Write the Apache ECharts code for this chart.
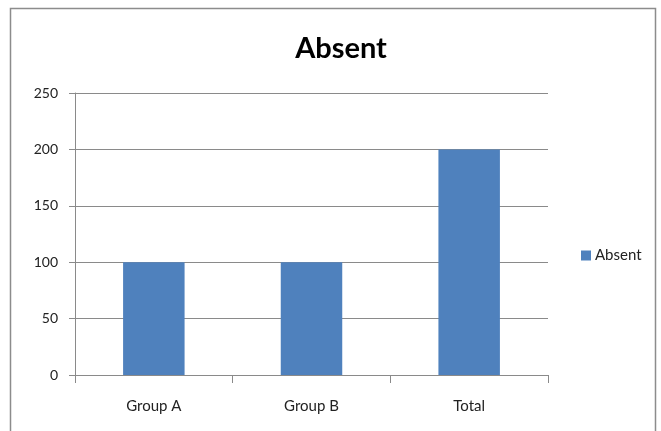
<!DOCTYPE html>
<html>
<head>
<meta charset="utf-8">
<script src="https://cdn.jsdelivr.net/npm/echarts@6/dist/echarts.min.js"></script>
<style>
  html, body { margin: 0; padding: 0; background: #fff; }
  #chart { width: 661px; height: 431px; }
</style>
</head>
<body>
<div id="chart"></div>
<script>
// Absence counts per group
const categories = ['Group A', 'Group B', 'Total'];
const absentValues = [100, 100, 200];
const seriesName = 'Absent';
const yTicks = { min: 0, max: 250, interval: 50 };

const chart = echarts.init(document.getElementById('chart'), null, { renderer: 'canvas' });
const fontFamily = 'Lato, "Open Sans", sans-serif';
const gridColor = '#8a8a8a';

chart.setOption({
  backgroundColor: '#ffffff',
  animation: false,
  textStyle: { fontFamily: fontFamily },
  graphic: [{
    type: 'rect',
    shape: { x: 10.5, y: 8.5, width: 645, height: 450 },
    style: { fill: 'none', stroke: '#8c8c8c', lineWidth: 1.5 },
    silent: true
  }],
  title: {
    text: 'Absent',
    left: 336,
    textAlign: 'center',
    top: 29,
    textStyle: { fontSize: 29, fontWeight: 'bold', color: '#000', fontFamily: fontFamily }
  },
  legend: {
    data: [seriesName],
    left: 576,
    top: 243,
    icon: 'rect',
    itemWidth: 10,
    itemHeight: 10,
    itemGap: 4,
    textStyle: { fontSize: 15, color: '#222', padding: [0, 0, 0, -1] }
  },
  grid: { left: 75, right: 113, top: 93, bottom: 56 },
  xAxis: {
    type: 'category',
    data: categories,
    axisLine: { show: true, lineStyle: { color: gridColor, width: 1 } },
    axisTick: { show: true, interval: 0, length: 8, alignWithLabel: false, lineStyle: { color: gridColor } },
    axisLabel: { fontSize: 15, color: '#222', margin: 24 }
  },
  yAxis: {
    type: 'value',
    min: yTicks.min,
    max: yTicks.max,
    interval: yTicks.interval,
    axisLine: { show: true, lineStyle: { color: gridColor, width: 1 } },
    axisTick: { show: true, length: 6, lineStyle: { color: gridColor } },
    splitLine: { show: true, lineStyle: { color: gridColor, width: 1 } },
    axisLabel: { fontSize: 14, color: '#222', margin: 17 }
  },
  series: [{
    name: seriesName,
    type: 'bar',
    data: absentValues,
    barWidth: '39%',
    itemStyle: { color: '#4f81bd' }
  }]
});
</script>
</body>
</html>
